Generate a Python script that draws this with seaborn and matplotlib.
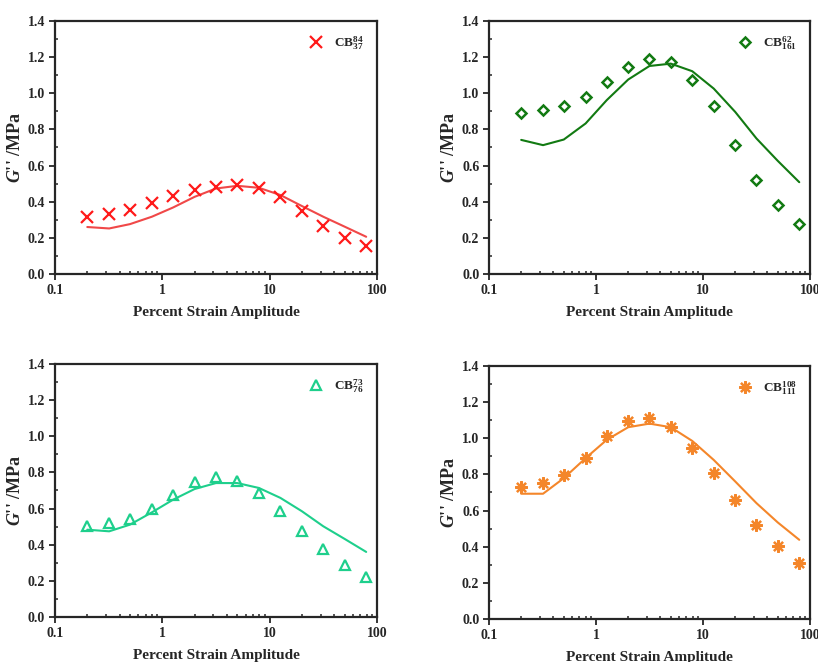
import numpy as np
import pandas as pd
import matplotlib
matplotlib.use('Agg')
import matplotlib.pyplot as plt
import seaborn as sns
from matplotlib.ticker import FixedLocator, FixedFormatter, MultipleLocator, LogLocator, NullFormatter


# data

strain = [0.2, 0.32, 0.5, 0.8, 1.26, 2.0, 3.16, 5.0, 7.94, 12.6, 20.0, 31.6, 50.0, 79.4]

exp_84_37 = [0.313, 0.330, 0.355, 0.394, 0.431, 0.464, 0.483, 0.490, 0.477, 0.424, 0.350, 0.267, 0.197, 0.155]
fit_84_37 = [0.260, 0.252, 0.276, 0.317, 0.368, 0.427, 0.473, 0.488, 0.477, 0.437, 0.376, 0.317, 0.262, 0.206]

exp_62_161 = [0.892, 0.906, 0.928, 0.978, 1.065, 1.144, 1.188, 1.171, 1.076, 0.930, 0.715, 0.521, 0.381, 0.276]
fit_62_161 = [0.742, 0.713, 0.744, 0.833, 0.962, 1.076, 1.151, 1.164, 1.122, 1.026, 0.897, 0.750, 0.626, 0.508]

exp_73_76 = [0.505, 0.520, 0.544, 0.600, 0.677, 0.747, 0.773, 0.751, 0.686, 0.585, 0.478, 0.378, 0.290, 0.221]
fit_73_76 = [0.483, 0.474, 0.511, 0.579, 0.649, 0.708, 0.741, 0.741, 0.714, 0.659, 0.585, 0.502, 0.432, 0.360]

exp_108_111 = [0.728, 0.750, 0.798, 0.892, 1.011, 1.098, 1.111, 1.063, 0.947, 0.807, 0.658, 0.521, 0.402, 0.309]
fit_108_111 = [0.693, 0.693, 0.779, 0.890, 0.991, 1.061, 1.081, 1.061, 0.985, 0.880, 0.761, 0.641, 0.534, 0.438]

labels = [r'$\mathbf{CB}^{84}_{37}$', r'$\mathbf{CB}^{62}_{161}$',
          r'$\mathbf{CB}^{73}_{76}$', r'$\mathbf{CB}^{108}_{111}$']

xticks = [0.1, 1, 10, 100]
xticklabels = ['0.1', '1', '10', '100']


sns.set_style('ticks')
plt.rcParams['font.family'] = ['Liberation Serif', 'DejaVu Serif']
plt.rcParams['font.weight'] = 'bold'
plt.rcParams['mathtext.fontset'] = 'custom'
plt.rcParams['mathtext.rm'] = 'Liberation Serif:bold'
plt.rcParams['mathtext.bf'] = 'Liberation Serif:bold'
plt.rcParams['mathtext.it'] = 'Liberation Serif:bold:italic'


fig = plt.figure(figsize=(8.18, 6.62), dpi=100)

# axes positions in figure fraction
positions = [
    [0.0672, 0.5861, 0.3936, 0.3822],
    [0.5978, 0.5861, 0.3924, 0.3822],
    [0.0672, 0.0680, 0.3936, 0.3822],
    [0.5978, 0.0650, 0.3924, 0.3822],
]

panels = [
    (exp_84_37, fit_84_37, '#ff1a1a', '#f04848', 'x', 8, 1.6, True),
    (exp_62_161, fit_62_161, '#127a12', '#127a12', 'D', 5.5, 1.8, False),
    (exp_73_76, fit_73_76, '#1ecf8c', '#1ecf8c', '^', 7, 1.6, False),
    (exp_108_111, fit_108_111, '#f4862a', '#f4862a', (8, 2, 0), 9, 1.6, True),
]

for i, (exp, fit, mcol, lcol, mk, ms, mew, filled) in enumerate(panels):
    ax = fig.add_axes(positions[i])
    df = pd.DataFrame({'strain': strain, 'exp': exp, 'fit': fit})

    sns.lineplot(data=df, x='strain', y='fit', ax=ax, color=lcol, lw=1.5, legend=False)
    ax.plot(df['strain'], df['exp'], ls='none', marker=mk, markersize=ms,
            markeredgewidth=mew, markeredgecolor=mcol,
            markerfacecolor=mcol if filled else 'none', label=labels[i])

    ax.set_xscale('log')
    ax.set_xlim(0.1, 100)
    ax.set_ylim(0, 1.4)
    ax.xaxis.set_major_locator(FixedLocator(xticks))
    ax.xaxis.set_major_formatter(FixedFormatter(xticklabels))
    ax.xaxis.set_minor_locator(LogLocator(base=10, subs=np.arange(2, 10)))
    ax.xaxis.set_minor_formatter(NullFormatter())
    ax.yaxis.set_major_locator(MultipleLocator(0.2))
    ax.yaxis.set_minor_locator(MultipleLocator(0.1))
    ax.yaxis.set_major_formatter(plt.FormatStrFormatter('%.1f'))

    ax.tick_params(which='major', direction='out', length=4, width=1.3, labelsize=10, pad=3)
    ax.tick_params(which='minor', direction='in', length=2.5, width=1.1)
    for s in ax.spines.values():
        s.set_linewidth(1.6)
        s.set_visible(True)

    ax.set_xlabel('Percent Strain Amplitude', fontsize=11, fontweight='bold', labelpad=7)
    ax.set_ylabel(r"$G$'' /MPa", fontsize=13, fontweight='bold', labelpad=3)

    leg = ax.legend(loc='upper right', frameon=False, fontsize=9.5,
                    handletextpad=0.6, borderaxespad=0.6, handlelength=1.5)

fig.savefig('out.png', dpi=100)
